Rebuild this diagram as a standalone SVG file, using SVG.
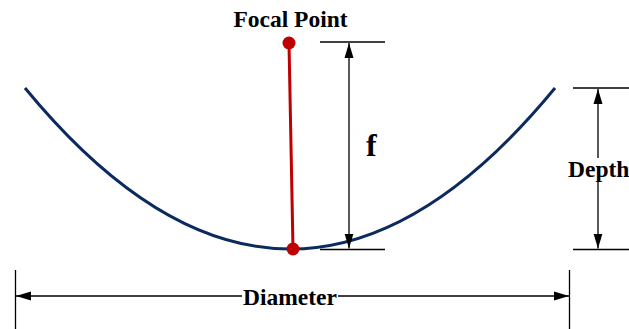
<svg xmlns="http://www.w3.org/2000/svg" width="629" height="329" viewBox="0 0 629 329">
<style>
.dim{stroke:#000;stroke-width:1.3;fill:none}
.lbl{font-family:"Liberation Serif","Times New Roman",serif;font-weight:bold;fill:#000}
</style>
<defs>
<marker id="ah2" viewBox="0 0 15 10" refX="15" refY="5" markerWidth="15" markerHeight="10" markerUnits="userSpaceOnUse" orient="auto-start-reverse">
<path d="M0,0.5 L15,5 L0,9.5 Z" fill="#000"/>
</marker>
</defs>
<rect width="629" height="329" fill="#fff"/>
<g id="dish">
<path d="M25,88 Q290,410 555,88" fill="none" stroke="#0b2a5e" stroke-width="3"/>
</g>
<g id="connectors">
<line class="dim" x1="320" y1="42" x2="385" y2="42"/>
<line class="dim" x1="320" y1="249.5" x2="385" y2="249.5"/>
<line class="dim" x1="349" y1="43" x2="349" y2="248.5" marker-start="url(#ah2)" marker-end="url(#ah2)"/>
<line class="dim" x1="573" y1="88" x2="629" y2="88"/>
<line class="dim" x1="573" y1="249.5" x2="629" y2="249.5"/>
<line class="dim" x1="598" y1="89" x2="598" y2="248.5" marker-start="url(#ah2)" marker-end="url(#ah2)"/>
<line class="dim" x1="15.5" y1="270" x2="15.5" y2="329"/>
<line class="dim" x1="569.5" y1="270" x2="569.5" y2="329"/>
<line class="dim" x1="16" y1="296" x2="569" y2="296" marker-start="url(#ah2)" marker-end="url(#ah2)"/>
</g>
<g id="focal-line">
<line x1="289" y1="43" x2="293" y2="249" stroke="#c00000" stroke-width="3"/>
</g>
<g id="focal-point">
<circle cx="289" cy="43" r="6.5" fill="#c00000"/>
</g>
<g id="vertex">
<circle cx="293" cy="249" r="6.5" fill="#c00000"/>
</g>
<g id="labels">
<rect x="242" y="284" width="96" height="24" fill="#fff"/>
<text class="lbl" x="290" y="305" font-size="23.5" text-anchor="middle">Diameter</text>
<text class="lbl" x="290.5" y="27" font-size="23.5" text-anchor="middle">Focal Point</text>
<text class="lbl" x="366" y="156" font-size="32">f</text>
<rect x="566" y="158" width="63" height="24" fill="#fff"/>
<text class="lbl" x="568" y="177" font-size="23.5">Depth</text>
</g>
</svg>
